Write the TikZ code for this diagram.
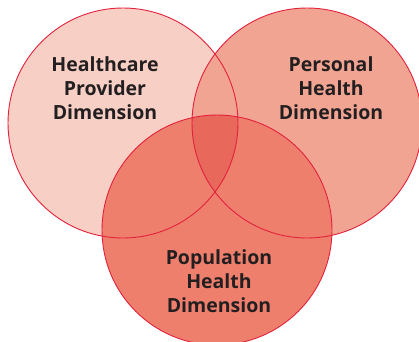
\documentclass[tikz,border=0pt]{standalone}
\usepackage{fontspec}
\setmainfont{Open Sans}
\definecolor{ringred}{HTML}{E2223C}
\definecolor{fillA}{HTML}{F7CFC4}
\definecolor{fillB}{HTML}{F2A493}
\definecolor{fillC}{HTML}{EE7F6D}
\definecolor{fillD}{HTML}{E8685C}
\definecolor{txt}{HTML}{231F20}
\begin{document}
\begin{tikzpicture}[x=1pt,y=-1pt,
  ring/.style={draw=ringred,line width=0.9pt},
  lbl/.style={align=center,font=\bfseries\fontsize{19.5}{24}\selectfont,text=txt,inner sep=0pt}]
\useasboundingbox (0,0) rectangle (419,341);
\begin{scope}
\clip (0,0) rectangle (419,341);
\fill[fillA] (123,123) circle (115);
\fill[fillB] (307,123) circle (115);
\fill[fillC] (217,230) circle (115);
\begin{scope}
\clip (123,123) circle (115);
\clip (307,123) circle (115);
\fill[fillD] (217,230) circle (115);
\end{scope}
\draw[ring] (123,123) circle (115);
\draw[ring] (307,123) circle (115);
\draw[ring] (217,230) circle (115);
\end{scope}
\node[lbl] (hp) at (105,88) {Healthcare\\Provider\\Dimension};
\node[lbl] (ph) at (331,88) {Personal\\Health\\Dimension};
\node[lbl] (pop) at (219,281) {Population\\Health\\Dimension};
\end{tikzpicture}
\end{document}
